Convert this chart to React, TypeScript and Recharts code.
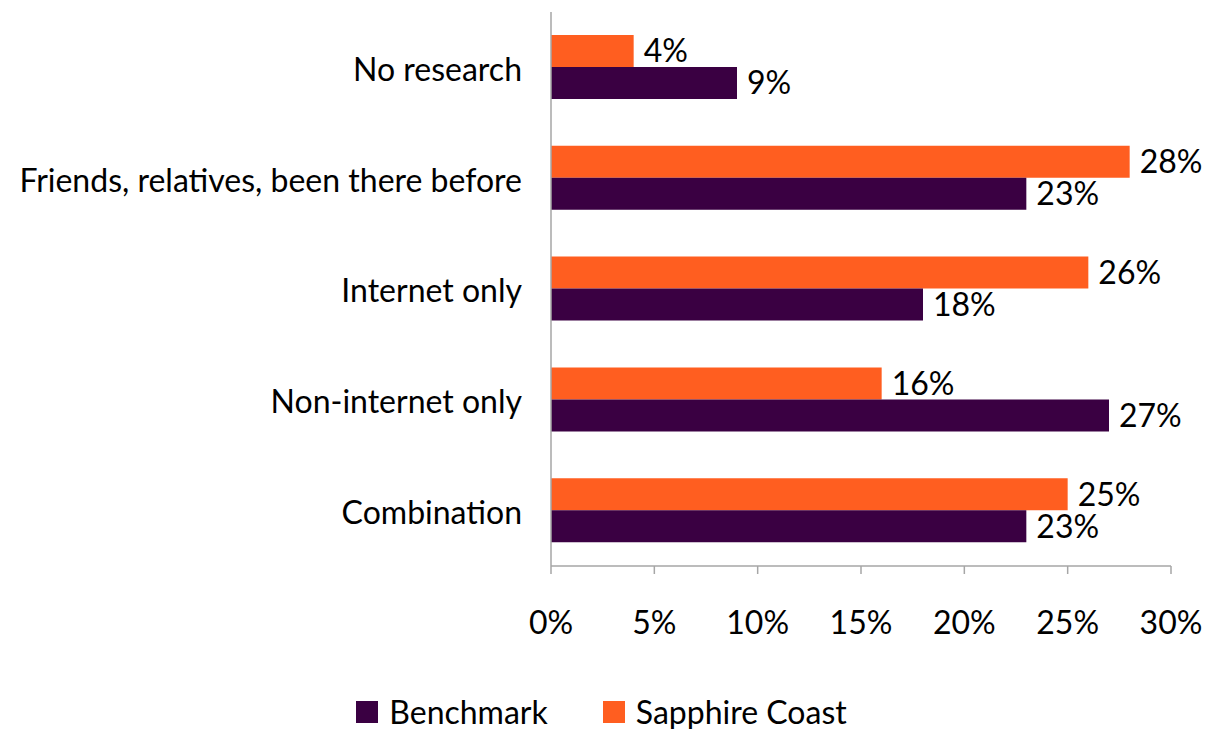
import React from "react"
import { BarChart, Bar, XAxis, YAxis, Legend, LabelList } from "recharts"

const categories = [
  "No research",
  "Friends, relatives, been there before",
  "Internet only",
  "Non-internet only",
  "Combination",
]
const benchmark = [9, 23, 18, 27, 23]
const sapphireCoast = [4, 28, 26, 16, 25]
const xTicks = [0, 5, 10, 15, 20, 25, 30]
const bandEdges = [0, 1, 2, 3, 4, 5]

const PURPLE = "#3A0042"
const ORANGE = "#FF5E20"
const AXIS = "#A6A6A6"
const FONT = "Lato, 'Open Sans', sans-serif"
const FONT_SIZE = 32

const data = categories.map((name, i) => ({
  name,
  benchmark: benchmark[i],
  sapphire: sapphireCoast[i],
}))

const legendItems = [
  { label: "Benchmark", color: PURPLE },
  { label: "Sapphire Coast", color: ORANGE },
]

const LegendContent = () => (
  <div
    style={{
      display: "flex",
      justifyContent: "center",
      gap: 55,
      fontFamily: FONT,
      fontSize: FONT_SIZE,
      lineHeight: "34px",
      height: 34,
      color: "#000",
      paddingLeft: 32,
    }}
  >
    {legendItems.map((item) => (
      <div key={item.label} style={{ display: "flex", alignItems: "center" }}>
        <span style={{ width: 22, height: 22, background: item.color, marginRight: 11, display: "inline-block" }} />
        <span>{item.label}</span>
      </div>
    ))}
  </div>
)

export default function App() {
  return (
    <div style={{ position: "absolute", left: 0, top: 0, background: "#fff" }}>
      <BarChart
        width={1213}
        height={729}
        data={data}
        layout="vertical"
        margin={{ top: 12, right: 42, left: 0, bottom: 0 }}
        barGap={0}
        barSize={32}
      >
        {/* tick marks on the category boundaries, next to the plot */}
        <YAxis
          yAxisId="bounds"
          type="number"
          domain={[0, 5]}
          ticks={bandEdges}
          width={1}
          tick={false}
          tickSize={11}
          tickLine={{ stroke: AXIS, strokeWidth: 1.5 }}
          axisLine={{ stroke: AXIS, strokeWidth: 1.5 }}
        />
        <YAxis
          yAxisId="labels"
          type="category"
          dataKey="name"
          width={550}
          axisLine={false}
          tickLine={false}
          tickSize={0}
          tickMargin={28}
          tick={{ fill: "#000", fontSize: FONT_SIZE, fontFamily: FONT, dy: 2 }}
        />
        <XAxis
          type="number"
          domain={[0, 30]}
          ticks={xTicks}
          interval={0}
          height={129}
          tickSize={8}
          tickMargin={37}
          tickFormatter={(v) => `${v}%`}
          axisLine={{ stroke: AXIS, strokeWidth: 1.5 }}
          tickLine={{ stroke: AXIS, strokeWidth: 1.5 }}
          tick={{ fill: "#000", fontSize: FONT_SIZE, fontFamily: FONT }}
        />
        <Legend verticalAlign="bottom" height={34} content={LegendContent} />
        <Bar yAxisId="labels" dataKey="sapphire" name="Sapphire Coast" fill={ORANGE} isAnimationActive={false}>
          <LabelList
            dataKey="sapphire"
            position="right"
            offset={10}
            formatter={(v: number) => `${v}%`}
            style={{ fill: "#000", fontSize: FONT_SIZE, fontFamily: FONT }}
          />
        </Bar>
        <Bar yAxisId="labels" dataKey="benchmark" name="Benchmark" fill={PURPLE} isAnimationActive={false}>
          <LabelList
            dataKey="benchmark"
            position="right"
            offset={10}
            formatter={(v: number) => `${v}%`}
            style={{ fill: "#000", fontSize: FONT_SIZE, fontFamily: FONT }}
          />
        </Bar>
      </BarChart>
    </div>
  )
}
